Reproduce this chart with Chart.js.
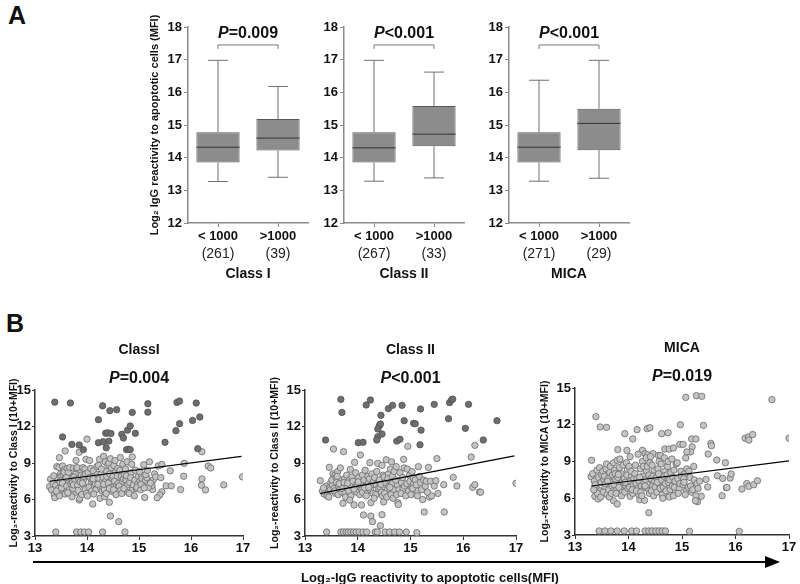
<!DOCTYPE html>
<html>
<head>
<meta charset="utf-8">
<script src="https://cdn.jsdelivr.net/npm/chart.js@4.4.1/dist/chart.umd.min.js"></script>
<style>
  body { margin: 0; background: #fff; }
  #wrap { position: relative; width: 800px; height: 584px; overflow: hidden; font-family: 'Liberation Sans', Arial, sans-serif; color: #111; }
  canvas { position: absolute; }
  .letter { position: absolute; font-weight: bold; font-size: 25px; line-height: 1; }
  #arrowLine { position: absolute; left: 33px; top: 561px; width: 734px; height: 2px; background: #000; }
  #arrowHead { position: absolute; left: 765px; top: 556px; width: 0; height: 0; border-top: 6px solid transparent; border-bottom: 6px solid transparent; border-left: 15px solid #000; }
  #xLabel { position: absolute; left: 230px; width: 400px; top: 570px; text-align: center; font-weight: bold; font-size: 13px; }
</style>
</head>
<body>
<div id="wrap">
  <div class="letter" style="left:8px;top:3px">A</div>
  <div class="letter" style="left:6px;top:311px">B</div>
  <canvas id="boxI" width="180" height="290" style="left:140px;top:0"></canvas>
  <canvas id="boxII" width="180" height="290" style="left:296px;top:0"></canvas>
  <canvas id="boxMICA" width="180" height="290" style="left:461px;top:0"></canvas>
  <canvas id="scI" width="280" height="260" style="left:0;top:300px"></canvas>
  <canvas id="scII" width="277" height="260" style="left:263px;top:300px"></canvas>
  <canvas id="scMICA" width="267" height="260" style="left:533px;top:300px"></canvas>
  <div id="arrowLine"></div>
  <div id="arrowHead"></div>
  <div id="xLabel">Log₂-IgG reactivity to apoptotic cells(MFI)</div>
</div>
<script>
const FONT = "'Liberation Sans', Arial, sans-serif";
Chart.defaults.font.family = FONT;
Chart.defaults.color = '#111';

// ---- Panel A: box plot summaries ----
const groups = ['< 1000', '>1000'];

const classILow = [13.27, 13.40], classIQ1 = [13.85, 14.22], classIMed = [14.32, 14.60], classIQ3 = [14.78, 15.18], classIHighW = [16.98, 16.18];
const classIILow = [13.28, 13.38], classIIQ1 = [13.85, 14.35], classIIMed = [14.30, 14.72], classIIQ3 = [14.78, 15.58], classIIHighW = [16.98, 16.62];
const micaLow = [13.28, 13.37], micaQ1 = [13.85, 14.23], micaMed = [14.32, 15.05], micaQ3 = [14.78, 15.50], micaHighW = [16.37, 16.98];

const classICounts = [261, 39];
const classIICounts = [267, 33];
const micaCounts = [271, 29];

const boxPValues = ['P=0.009', 'P<0.001', 'P<0.001'];
const bracketLevel = 17.45;

// ---- Panel B: scatter points [IgG to apoptotic cells, reactivity] ----
const classIHigh = [[13.38,14.00],[13.68,13.93],[14.30,13.70],[14.44,13.30],[14.57,13.38],[14.87,13.16],[14.22,12.56],[13.53,11.14],[13.71,10.53],[13.85,10.48],[13.93,10.10],[14.22,10.67],[14.31,10.75],[14.42,10.80],[14.36,11.45],[14.40,11.48],[14.46,11.42],[14.67,11.36],[14.70,11.05],[14.78,11.70],[14.83,12.04],[14.93,11.44],[14.76,10.10],[14.80,10.12],[14.83,10.10],[14.37,10.25],[15.17,13.87],[15.17,13.18],[15.73,13.98],[15.78,14.09],[16.10,13.93],[16.03,12.50],[16.17,12.78],[15.78,12.23],[15.71,11.66],[15.50,10.70],[16.13,10.18]];

const classIRest = [[13.30,7.66],[13.28,7.05],[13.32,6.78],[13.37,6.42],[13.38,6.15],[13.35,7.30],[13.40,3.33],[13.42,8.70],[13.44,7.70],[13.40,7.15],[13.47,9.44],[13.46,8.64],[13.45,6.90],[13.48,7.45],[13.49,8.10],[13.43,6.55],[13.50,7.90],[13.47,6.30],[13.36,7.95],[13.41,6.70],
[13.53,8.75],[13.56,8.42],[13.58,9.99],[13.52,7.60],[13.55,7.20],[13.57,6.70],[13.54,8.00],[13.59,7.85],[13.51,6.95],[13.58,6.45],[13.56,8.25],[13.53,7.35],
[13.62,8.55],[13.65,7.50],[13.68,7.95],[13.61,7.10],[13.66,6.80],[13.71,6.23],[13.64,8.20],[13.69,7.30],[13.67,8.62],[13.63,6.55],[13.70,7.75],[13.60,7.80],
[13.74,8.58],[13.78,8.10],[13.72,7.40],[13.76,7.00],[13.79,6.60],[13.75,7.85],[13.80,8.55],[13.73,6.90],[13.77,7.60],[13.80,3.33],[13.79,9.20],[13.74,7.20],
[13.85,5.96],[13.86,6.10],[13.82,7.20],[13.84,7.70],[13.88,8.30],[13.83,6.75],[13.87,7.45],[13.89,8.00],[13.85,9.88],[13.88,3.33],[13.81,8.62],[13.90,6.40],
[13.92,8.62],[13.96,8.50],[13.98,9.30],[13.93,7.60],[13.95,7.10],[13.97,6.85],[13.94,7.90],[13.99,6.50],[13.95,3.33],[13.91,7.35],[13.97,8.10],
[14.03,3.33],[14.00,10.97],[14.05,9.20],[14.02,8.20],[14.06,7.80],[14.08,7.40],[14.04,7.00],[14.09,6.70],[14.01,6.30],[14.07,8.55],[14.10,7.60],
[14.11,5.63],[14.12,8.35],[14.15,7.90],[14.18,7.50],[14.14,7.15],[14.17,6.80],[14.13,6.45],[14.19,8.70],[14.16,7.30],[14.20,8.05],[14.12,7.70],
[14.25,6.10],[14.22,8.80],[14.24,9.30],[14.27,8.10],[14.23,7.70],[14.28,7.40],[14.26,7.00],[14.29,6.70],[14.21,7.25],[14.30,3.33],[14.28,8.50],
[14.34,6.23],[14.32,9.55],[14.35,9.10],[14.38,8.30],[14.31,7.80],[14.36,7.50],[14.39,7.10],[14.33,6.80],[14.37,6.50],[14.40,8.85],[14.32,7.25],[14.38,7.90],
[14.43,5.77],[14.45,4.64],[14.42,9.00],[14.47,8.60],[14.44,8.10],[14.48,7.70],[14.41,7.35],[14.46,7.00],[14.49,6.65],[14.45,9.35],[14.50,7.90],[14.43,6.90],
[14.52,8.80],[14.55,8.30],[14.58,7.90],[14.53,7.50],[14.57,7.15],[14.51,6.80],[14.56,6.40],[14.59,8.55],[14.54,9.20],[14.60,7.30],
[14.61,4.18],[14.63,8.40],[14.66,7.90],[14.68,7.50],[14.62,7.10],[14.65,6.75],[14.69,8.90],[14.64,9.45],[14.67,6.50],[14.70,7.70],
[14.73,3.33],[14.72,8.05],[14.75,7.60],[14.78,7.20],[14.71,6.90],[14.74,8.50],[14.77,9.10],[14.79,6.60],[14.76,7.95],
[14.82,7.40],[14.85,8.20],[14.88,6.85],[14.84,7.80],[14.87,9.50],[14.81,6.50],[14.89,7.20],[14.86,8.90],
[14.92,7.60],[14.95,6.90],[14.98,7.30],[14.93,8.40],[14.96,7.00],[14.91,6.30],[14.99,7.90],
[15.02,7.50],[15.05,8.00],[15.08,7.10],[15.03,6.80],[15.06,7.70],[15.09,8.86],[15.01,8.30],[15.04,7.25],[15.11,6.17],[15.12,7.60],
[15.20,9.10],[15.26,6.82],[15.25,7.15],[15.27,7.59],[15.15,7.80],[15.13,8.05],[15.18,7.00],[15.30,8.10],[15.32,7.85],[15.22,7.35],[15.10,6.95],[15.16,8.40],
[15.37,8.75],[15.44,8.88],[15.60,8.36],[15.87,8.97],[16.33,8.75],[16.38,8.59],[15.86,7.91],[16.21,7.69],[16.20,7.17],[16.28,6.79],[16.63,7.20],[16.99,7.86],[15.52,7.12],[15.62,7.12],[15.80,6.82],[15.44,6.63],[15.40,6.38],[15.35,6.14],[16.21,9.93],[15.42,7.80]];

const classIIHigh = [[13.68,14.23],[13.70,13.16],[13.39,10.89],[14.16,13.77],[14.24,14.18],[14.44,12.92],[14.41,12.07],[14.43,12.20],[14.38,11.80],[14.58,13.47],[14.66,13.74],[14.84,13.74],[14.88,12.48],[15.06,12.26],[14.01,10.67],[14.10,10.70],[14.38,11.16],[14.36,10.89],[14.74,10.80],[14.80,10.95],[14.46,11.38],[15.19,13.44],[15.45,13.82],[15.74,13.96],[15.78,14.20],[15.80,14.25],[16.10,13.82],[15.09,12.23],[15.20,11.70],[15.72,12.64],[16.04,11.85],[16.64,12.48],[15.18,10.50],[16.38,10.89]];

const classIIRest = [[13.29,7.55],[13.38,6.84],[13.36,6.45],[13.41,3.33],[13.46,8.64],[13.33,6.70],[13.40,7.10],[13.44,6.60],[13.47,7.00],[13.42,6.30],[13.49,7.40],[13.35,6.95],[13.45,6.20],[13.48,6.80],
[13.53,8.10],[13.57,8.00],[13.54,10.15],[13.52,7.20],[13.55,6.90],[13.58,6.50],[13.51,7.60],[13.59,7.80],[13.56,6.70],[13.60,7.40],[13.62,8.30],[13.67,8.60],[13.64,7.10],[13.66,6.80],[13.68,3.33],[13.63,6.40],[13.69,7.60],[13.61,7.90],[13.65,7.30],[13.70,6.60],
[13.73,9.93],[13.72,5.69],[13.73,3.33],[13.75,7.70],[13.78,7.20],[13.71,6.90],[13.76,6.50],[13.79,8.00],[13.74,7.40],[13.77,6.20],[13.78,3.33],[13.80,7.00],[13.82,3.33],[13.86,8.48],[13.84,7.60],[13.88,7.10],[13.83,6.70],[13.87,6.30],[13.89,7.85],[13.85,5.95],[13.87,3.33],[13.81,7.35],
[13.94,9.05],[13.93,5.55],[13.92,3.33],[13.97,3.33],[13.91,7.50],[13.95,7.00],[13.98,6.60],[13.96,8.20],[13.93,6.85],[13.99,7.30],[14.05,9.66],[14.03,3.33],[14.02,7.80],[14.06,7.20],[14.08,6.80],[14.04,6.40],[14.09,8.00],[14.07,5.55],[14.01,7.45],[14.10,3.33],[14.09,6.60],
[14.11,4.73],[14.17,3.33],[14.12,7.60],[14.15,7.10],[14.18,6.70],[14.14,8.40],[14.16,6.30],[14.19,7.90],[14.13,6.95],[14.20,7.35],[14.25,4.64],[14.28,4.18],[14.25,5.74],[14.23,9.03],[14.22,7.70],[14.26,7.20],[14.24,6.80],[14.29,6.50],[14.27,8.10],[14.21,7.00],[14.30,7.50],
[14.33,3.33],[14.37,3.33],[14.38,8.97],[14.46,4.75],[14.43,3.85],[14.46,8.81],[14.32,7.80],[14.35,7.20],[14.39,6.90],[14.34,6.40],[14.36,8.30],[14.31,6.10],[14.40,7.50],[14.42,7.00],[14.45,6.60],[14.48,8.00],[14.41,7.60],[14.47,6.30],[14.44,7.25],[14.49,5.80],[14.50,7.85],
[14.52,3.33],[14.60,3.33],[14.54,9.27],[14.53,7.40],[14.56,6.90],[14.58,8.10],[14.51,6.50],[14.57,7.70],[14.55,6.20],[14.59,7.10],[14.62,8.50],[14.65,7.30],[14.68,6.80],[14.63,6.40],[14.66,7.90],[14.61,7.00],[14.69,8.30],[14.64,9.10],[14.67,6.10],[14.70,3.33],
[14.76,5.74],[14.77,5.58],[14.79,3.33],[14.73,8.70],[14.75,7.20],[14.78,6.80],[14.72,7.60],[14.74,6.40],[14.80,8.20],[14.83,7.40],[14.86,6.90],[14.88,8.60],[14.82,6.50],[14.85,7.80],[14.89,7.10],[14.87,9.30],[14.92,3.33],[14.95,10.37],[14.93,7.30],[14.96,6.70],[14.98,8.00],[14.91,6.30],[14.99,7.50],[14.94,8.50],
[15.02,7.00],[15.05,7.80],[15.08,6.60],[15.03,8.30],[15.06,7.30],[15.01,6.40],[15.09,7.60],[15.04,6.90],[15.12,3.27],[15.15,8.70],[15.11,7.20],[15.14,6.70],[15.17,7.90],[15.13,6.30],[15.19,7.40],[15.23,6.00],[15.26,4.97],[15.21,6.80],[15.25,7.60],[15.28,7.10],[15.30,7.50],[15.34,8.64],[15.38,7.50],[15.36,6.20],[15.40,6.30],[15.32,6.60],
[16.22,10.45],[16.15,9.49],[15.50,9.36],[15.81,7.82],[15.88,7.11],[16.18,7.00],[16.22,7.22],[16.31,6.62],[16.33,6.60],[17.00,7.33],[15.63,7.22],[15.45,7.11],[15.52,6.50],[15.64,4.97],[15.48,7.55]];

const micaPoints = [[13.39,12.66],[13.47,11.82],[13.59,11.79],[13.93,11.27],[14.16,11.60],[14.08,10.84],[13.97,9.91],[13.80,9.97],[14.35,11.68],[14.40,11.76],[14.62,11.27],[14.74,11.35],[14.97,12.00],[14.26,9.91],[14.31,9.64],[14.36,9.56],[14.46,9.64],[14.56,9.50],[14.60,9.50],[14.68,10.02],[14.76,10.02],[14.84,10.10],[14.96,10.40],[15.02,10.40],[13.31,9.10],[13.30,7.76],[13.40,6.84],[13.37,6.16],[13.43,5.94],[13.72,5.80],[13.79,5.53],[14.21,5.88],[14.30,5.83],[14.38,4.82],[14.03,6.16],
[13.45,3.33],[13.56,3.33],[13.67,3.33],[13.79,3.33],[13.92,3.33],[14.06,3.33],[14.15,3.33],[14.31,3.33],[14.38,3.33],[14.44,3.33],[14.51,3.33],[14.57,3.33],[14.63,3.33],[14.69,3.33],[15.14,3.30],[16.07,3.30],
[15.07,14.24],[15.27,14.37],[15.37,14.32],[16.68,14.05],[15.40,11.95],[15.18,10.84],[15.26,10.84],[15.19,10.20],[15.16,9.78],[15.09,9.78],[15.07,9.29],[15.54,10.48],[15.55,10.29],[15.49,9.61],[15.65,9.12],[15.81,8.90],[16.18,10.90],[16.24,11.00],[16.25,10.75],[16.32,11.20],[17.00,10.90],[15.66,7.84],[15.76,7.62],[15.90,7.65],[15.92,7.98],[15.83,6.86],[15.84,6.88],[15.75,6.20],[15.45,7.54],[15.48,6.92],[16.12,6.75],[16.21,7.20],[16.25,6.97],[16.34,7.10],[16.41,7.43],[15.29,5.72],[15.36,6.16],
[13.33,8.00],[13.36,7.40],[13.38,7.10],[13.41,8.30],[13.44,7.70],[13.47,6.60],[13.42,6.40],[13.35,6.70],[13.49,7.30],[13.46,8.50],[13.48,6.10],[13.50,7.90],
[13.52,8.20],[13.54,7.50],[13.56,6.90],[13.58,8.40],[13.53,6.50],[13.57,7.20],[13.55,7.80],[13.60,6.30],[13.59,8.80],[13.62,7.60],[13.65,8.10],[13.63,6.70],[13.67,7.30],[13.64,6.10],[13.66,8.60],[13.69,7.00],[13.68,6.40],[13.70,7.90],[13.61,7.40],
[13.72,8.90],[13.74,8.30],[13.76,7.50],[13.78,6.80],[13.73,7.10],[13.77,6.40],[13.75,8.00],[13.79,9.10],[13.80,7.70],[13.83,8.50],[13.85,7.20],[13.88,6.60],[13.82,6.90],[13.86,8.00],[13.89,7.40],[13.84,9.20],[13.87,6.20],[13.81,7.95],[13.90,8.70],
[13.92,7.60],[13.95,7.00],[13.98,8.30],[13.93,6.50],[13.96,8.90],[13.94,7.30],[13.99,6.80],[13.97,7.90],[14.01,8.60],[14.04,7.40],[14.02,6.90],[14.06,7.80],[14.08,6.40],[14.05,8.20],[14.09,7.10],[14.03,9.40],[14.07,6.70],[14.10,7.60],
[14.12,8.00],[14.14,7.20],[14.17,6.80],[14.13,8.70],[14.16,7.60],[14.19,6.30],[14.18,9.60],[14.15,6.60],[14.20,7.40],[14.22,8.40],[14.24,7.00],[14.27,7.80],[14.23,6.50],[14.26,9.00],[14.29,7.30],[14.25,6.20],[14.28,8.60],[14.21,7.70],[14.30,6.90],
[14.32,7.50],[14.34,8.20],[14.36,6.80],[14.38,7.90],[14.33,9.30],[14.37,7.10],[14.39,6.40],[14.35,8.60],[14.31,7.00],[14.40,8.90],[14.42,7.60],[14.45,7.00],[14.48,8.30],[14.43,6.60],[14.46,7.80],[14.41,9.40],[14.47,6.20],[14.49,7.40],[14.44,8.70],[14.50,6.90],
[14.52,7.70],[14.55,8.40],[14.58,7.10],[14.53,6.50],[14.57,9.00],[14.54,7.30],[14.59,6.80],[14.56,8.00],[14.62,7.50],[14.65,6.90],[14.68,8.20],[14.63,6.30],[14.66,7.80],[14.61,8.80],[14.69,7.20],[14.64,6.00],[14.67,9.30],[14.70,6.60],
[14.72,7.90],[14.75,7.30],[14.78,6.70],[14.73,8.60],[14.76,6.10],[14.79,8.10],[14.74,9.00],[14.77,7.50],[14.82,7.00],[14.85,8.30],[14.88,6.50],[14.83,7.70],[14.86,6.90],[14.89,8.80],[14.84,6.20],[14.81,9.20],[14.87,7.40],[14.92,7.60],[14.95,6.80],[14.98,8.20],[14.93,6.40],[14.96,7.20],[14.91,8.90],[14.99,7.80],
[15.02,7.10],[15.05,8.00],[15.08,6.60],[15.03,7.60],[15.06,6.30],[15.09,8.40],[15.04,7.30],[15.12,6.90],[15.15,7.70],[15.18,6.50],[15.13,8.20],[15.16,7.00],[15.20,6.70],[15.23,7.50],[15.26,6.20],[15.22,8.60],[15.28,7.20],[15.30,6.80],[15.25,5.80],[15.33,7.40]];

// linear fits (endpoints in data units)
const classIFit = [[13.28, 7.50], [16.97, 9.55]];
const classIIFit = [[13.29, 6.50], [16.97, 9.58]];
const micaFit = [[13.30, 7.00], [17.00, 9.05]];

const scatterPValues = ['P=0.004', 'P<0.001', 'P=0.019'];

// draws "P" in italic and the rest in bold, centred at cx
function drawPValue(ctx, text, cx, cy, size) {
  const rest = text.slice(1);
  ctx.font = 'italic bold ' + size + 'px ' + FONT;
  const wP = ctx.measureText('P').width;
  ctx.font = 'bold ' + size + 'px ' + FONT;
  const wR = ctx.measureText(rest).width;
  const x0 = cx - (wP + wR) / 2;
  ctx.textAlign = 'left';
  ctx.textBaseline = 'middle';
  ctx.fillStyle = '#111';
  ctx.font = 'italic bold ' + size + 'px ' + FONT;
  ctx.fillText('P', x0, cy);
  ctx.font = 'bold ' + size + 'px ' + FONT;
  ctx.fillText(rest, x0 + wP, cy);
}

const extras = {
  id: 'extras',
  afterDatasetsDraw(chart, args, opts) {
    const ctx = chart.ctx;
    const xs = chart.scales.x, ys = chart.scales.y;
    const area = chart.chartArea;
    ctx.save();
    if (opts.box) {
      const b = opts.box;
      const bars = chart.getDatasetMeta(0).data;
      b.med.forEach((m, i) => {
        const cx = xs.getPixelForValue(i);
        const half = bars[i].width / 2;
        const yHi = ys.getPixelForValue(b.high[i]), yLo = ys.getPixelForValue(b.low[i]);
        ctx.strokeStyle = '#707070';
        ctx.lineWidth = 1;
        ctx.beginPath();
        ctx.moveTo(cx, ys.getPixelForValue(b.q3[i])); ctx.lineTo(cx, yHi);
        ctx.moveTo(cx, ys.getPixelForValue(b.q1[i])); ctx.lineTo(cx, yLo);
        ctx.moveTo(cx - 10, yHi); ctx.lineTo(cx + 10, yHi);
        ctx.moveTo(cx - 10, yLo); ctx.lineTo(cx + 10, yLo);
        ctx.stroke();
        const ym = ys.getPixelForValue(m);
        ctx.strokeStyle = '#333';
        ctx.beginPath();
        ctx.moveTo(cx - half, ym); ctx.lineTo(cx + half, ym);
        ctx.stroke();
        // group size under the tick label
        ctx.font = '14px ' + FONT;
        ctx.fillStyle = '#222';
        ctx.textAlign = 'center';
        ctx.textBaseline = 'middle';
        ctx.fillText('(' + opts.counts[i] + ')', cx, area.bottom + 31);
      });
      // significance bracket
      const x0 = xs.getPixelForValue(0), x1 = xs.getPixelForValue(1);
      const yb = ys.getPixelForValue(opts.bracket);
      ctx.strokeStyle = '#777';
      ctx.beginPath();
      ctx.moveTo(x0, yb + 4); ctx.lineTo(x0, yb); ctx.lineTo(x1, yb); ctx.lineTo(x1, yb + 4);
      ctx.stroke();
      drawPValue(ctx, opts.pText, (x0 + x1) / 2, yb - 11, 16);
    } else {
      const cx = (area.left + area.right) / 2;
      ctx.font = 'bold 14px ' + FONT;
      ctx.fillStyle = '#111';
      ctx.textAlign = 'center';
      ctx.textBaseline = 'middle';
      ctx.fillText(opts.title, cx, area.top - 40);
      drawPValue(ctx, opts.pText, cx, area.top - 11, 16);
    }
    ctx.restore();
  }
};

function makeBox(id, stats, counts, groupName, pText, yTitle) {
  new Chart(document.getElementById(id), {
    type: 'bar',
    data: {
      labels: groups,
      datasets: [{
        data: stats.q1.map((q, i) => [q, stats.q3[i]]),
        backgroundColor: '#8c8c8c',
        borderColor: '#555',
        borderWidth: 1,
        borderSkipped: false,
        barPercentage: 0.72,
        categoryPercentage: 1
      }]
    },
    options: {
      responsive: false,
      animation: false,
      layout: { padding: { top: 27, right: 12, left: 0, bottom: 0 } },
      plugins: {
        legend: { display: false },
        tooltip: { enabled: false },
        extras: { box: stats, counts: counts, bracket: bracketLevel, pText: pText }
      },
      scales: {
        x: {
          offset: true,
          grid: { drawOnChartArea: false, offset: false, tickLength: 4, color: '#8a8a8a' },
          border: { color: '#8a8a8a', width: 1.5 },
          ticks: { color: '#111', font: { size: 13, weight: 'bold' }, padding: 2 },
          title: { display: true, text: groupName, color: '#111', font: { size: 14, weight: 'bold' }, padding: { top: 0, bottom: 7 } },
          afterFit: s => { s.height = 67; }
        },
        y: {
          min: 12, max: 18,
          ticks: { stepSize: 1, color: '#111', font: { size: 13, weight: 'bold' }, padding: 2 },
          grid: { drawOnChartArea: false, tickLength: 4, color: '#8a8a8a' },
          border: { color: '#8a8a8a', width: 1.5 },
          title: { display: !!yTitle, text: yTitle || '', color: '#111', font: { size: 11, weight: 'bold' }, padding: { top: 8, bottom: 0 } },
          afterFit: s => { s.width = 48; }
        }
      }
    },
    plugins: [extras]
  });
}

makeBox('boxI', { low: classILow, q1: classIQ1, med: classIMed, q3: classIQ3, high: classIHighW }, classICounts, 'Class I', boxPValues[0], 'Log₂ IgG reactivity to apoptotic cells (MFI)');
makeBox('boxII', { low: classIILow, q1: classIIQ1, med: classIIMed, q3: classIIQ3, high: classIIHighW }, classIICounts, 'Class II', boxPValues[1], null);
makeBox('boxMICA', { low: micaLow, q1: micaQ1, med: micaMed, q3: micaQ3, high: micaHighW }, micaCounts, 'MICA', boxPValues[2], null);

function toXY(arr) { return arr.map(p => ({ x: p[0], y: p[1] })); }

function makeScatter(id, rest, high, fit, title, pText, yTitle, yWidth, titlePad, rightPad, topPad, xHeight) {
  new Chart(document.getElementById(id), {
    type: 'scatter',
    data: {
      datasets: [
        { type: 'line', data: toXY(fit), showLine: true, borderColor: '#000', borderWidth: 1.2, pointRadius: 0, fill: false },
        { data: toXY(high), backgroundColor: '#6e6e6e', borderColor: '#505050', borderWidth: 0.8, pointRadius: 3.2 },
        { data: toXY(rest), backgroundColor: '#c4c4c4', borderColor: '#6a6a6a', borderWidth: 0.8, pointRadius: 3.2 }
      ]
    },
    options: {
      responsive: false,
      animation: false,
      layout: { padding: { top: topPad, right: rightPad, left: 0, bottom: 0 } },
      plugins: {
        legend: { display: false },
        tooltip: { enabled: false },
        extras: { title: title, pText: pText }
      },
      scales: {
        x: {
          type: 'linear', min: 13, max: 17,
          ticks: { stepSize: 1, color: '#111', font: { size: 13, weight: 'bold' }, padding: 1 },
          grid: { drawOnChartArea: false, tickLength: 4, color: '#333' },
          border: { color: '#333', width: 1.5 },
          afterFit: s => { s.height = xHeight; }
        },
        y: {
          min: 3, max: 15,
          ticks: { stepSize: 3, color: '#111', font: { size: 13, weight: 'bold' }, padding: 1 },
          grid: { drawOnChartArea: false, tickLength: 3, color: '#333' },
          border: { color: '#333', width: 1.5 },
          title: { display: true, text: yTitle, color: '#111', font: { size: 10.5, weight: 'bold' }, padding: { top: titlePad, bottom: 0 } },
          afterFit: s => { s.width = yWidth; }
        }
      }
    },
    plugins: [extras]
  });
}

makeScatter('scI', classIRest, classIHigh, classIFit, 'ClassI', scatterPValues[0], 'Log₂-reactivity to Class I (10+MFI)', 35, 8, 37, 90, 24);
makeScatter('scII', classIIRest, classIIHigh, classIIFit, 'Class II', scatterPValues[1], 'Log₂-reactivity to Class II (10+MFI)', 42, 6, 24, 90, 24);
makeScatter('scMICA', micaPoints, [], micaFit, 'MICA', scatterPValues[2], 'Log₂-reactivity to MICA (10+MFI)', 42, 6, 11, 88, 25);
</script>
</body>
</html>
